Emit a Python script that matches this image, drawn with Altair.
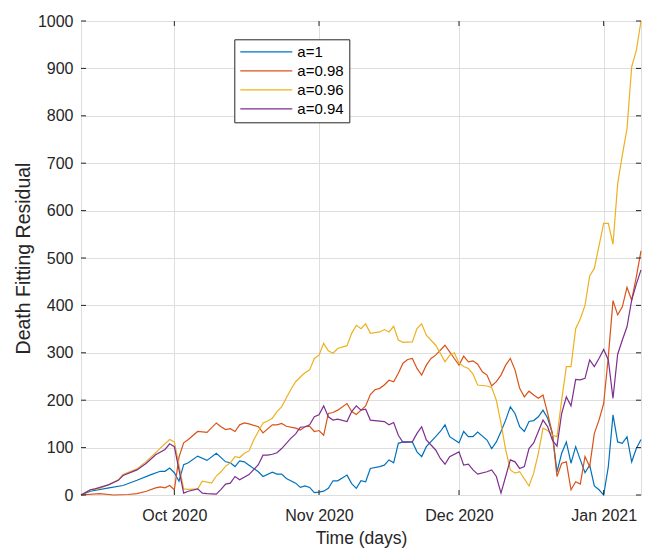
import altair as alt
import pandas as pd

START = "2020-09-11"
SERIES = ["a=1", "a=0.98", "a=0.96", "a=0.94"]
COLORS = ["#0072BD", "#D95319", "#EDB120", "#7E2F8E"]

# day offsets from START and residual values
A100_DAYS = [0, 2, 6, 9, 12, 15, 17, 18, 19, 20, 21, 22, 23, 25, 27, 29, 31, 32, 33, 34, 35, 36, 38, 39,
             41, 42, 43, 44, 46, 47, 48, 49, 50, 51, 52, 53, 54, 55, 57, 58, 59, 60, 61, 62, 64, 65, 66,
             67, 68, 69, 71, 72, 73, 74, 76, 77, 78, 79, 81, 82, 83, 84, 85, 87, 88, 89, 90, 91, 92, 93,
             94, 95, 96, 97, 98, 99, 100, 101, 102, 103, 104, 105, 106, 107, 108, 109, 110, 111, 112,
             113, 114, 115, 116, 117, 118, 119, 120]
A100_VALS = [0, 8, 15, 20, 31, 43, 50, 50, 57, 47, 29, 64, 68, 82, 73, 88, 70, 68, 60, 72, 70, 63, 49, 39,
             48, 44, 44, 35, 25, 16, 19, 16, 5, 6, 8, 14, 30, 30, 42, 24, 14, 30, 28, 56, 60, 63, 74,
             68, 109, 112, 112, 91, 81, 102, 123, 134, 148, 123, 110, 134, 123, 123, 133, 116, 98, 112, 134, 158, 186, 172,
             144, 134, 155, 157, 165, 179, 162, 130, 49, 88, 112, 67, 102, 74, 47, 63, 19, 11, 0,
             60, 169, 112, 109, 123, 70, 98, 117]

A098_DAYS = [0, 4, 7, 10, 12, 14, 16, 17, 18, 19, 20, 21, 22, 23, 25, 27, 29, 30, 31, 32, 33, 34, 35, 36,
             38, 39, 41, 42, 43, 44, 46, 47, 48, 49, 50, 51, 52, 53, 54, 55, 57, 58, 59, 60, 61, 62, 63,
             64, 65, 66, 67, 68, 69, 70, 71, 72, 73, 74, 75, 76, 78, 79, 80, 81, 82, 83, 84, 85, 86, 87,
             88, 89, 90, 91, 92, 93, 94, 95, 96, 97, 98, 99, 100, 101, 102, 103, 104, 105, 106, 107, 108,
             109, 110, 111, 112, 113, 114, 115, 116, 117, 118, 119, 120]
A098_VALS = [0, 3, 0, 1, 3, 8, 15, 17, 15, 20, 11, 80, 110, 117, 134, 132, 152, 144, 138, 140, 134, 148, 152, 150,
             144, 131, 148, 148, 151, 145, 141, 137, 144, 145, 134, 136, 126, 172, 174, 179, 193, 176, 170, 179, 188, 212, 222,
             225, 232, 242, 239, 257, 278, 286, 288, 267, 253, 274, 288, 295, 316, 302, 288, 274, 293, 281, 283, 276, 260, 253,
             230, 239, 253, 274, 288, 264, 225, 207, 219, 211, 204, 211, 172, 130, 39, 67, 70, 11, 28, 23, 81,
             60, 130, 158, 193, 292, 410, 380, 397, 438, 411, 460, 515]

A096_DAYS = [0, 2, 4, 6, 8, 9, 12, 14, 16, 17, 19, 20, 22, 23, 25, 26, 28, 29, 30, 31, 32, 33, 34, 35,
             36, 37, 38, 39, 40, 41, 42, 43, 44, 45, 46, 47, 48, 49, 50, 51, 52, 53, 54, 55, 57, 58, 59,
             60, 61, 62, 64, 65, 66, 67, 68, 69, 71, 72, 73, 74, 76, 77, 78, 79, 80, 81, 82, 83, 84, 85,
             87, 88, 89, 90, 91, 92, 93, 94, 96, 97, 98, 99, 100, 101, 102, 103, 104, 105, 106, 107, 108,
             109, 110, 112, 113, 114, 115, 116, 117, 118, 119, 120]
A096_VALS = [0, 11, 14, 22, 32, 43, 55, 71, 89, 99, 117, 112, 13, 12, 13, 29, 25, 40, 49, 61, 68, 81, 79, 88,
             93, 116, 134, 152, 156, 162, 176, 186, 205, 223, 239, 249, 258, 264, 288, 295, 320, 304, 299, 309, 315, 341, 358,
             351, 361, 341, 344, 349, 344, 356, 327, 322, 323, 351, 361, 337, 316, 299, 281, 295, 300, 278, 271, 267, 255, 232,
             230, 227, 200, 151, 95, 53, 46, 49, 19, 46, 88, 141, 136, 126, 123, 200, 271, 271, 351, 372, 400,
             462, 478, 573, 573, 529, 657, 717, 773, 903, 938, 1000]

A094_DAYS = [0, 2, 3, 6, 8, 9, 12, 14, 16, 18, 19, 20, 22, 23, 25, 26, 27, 29, 30, 31, 32, 33, 34, 36,
             38, 39, 40, 41, 42, 43, 44, 45, 46, 47, 48, 49, 50, 51, 52, 53, 54, 55, 57, 58, 59, 60, 61,
             62, 64, 65, 66, 67, 68, 69, 71, 72, 73, 74, 76, 77, 78, 79, 81, 82, 83, 84, 85, 87, 88, 89,
             90, 91, 92, 93, 94, 95, 96, 97, 98, 99, 100, 101, 102, 103, 104, 105, 106, 107, 108, 109, 110,
             111, 112, 113, 114, 115, 116, 117, 118, 119, 120]
A094_VALS = [0, 11, 13, 22, 31, 41, 53, 67, 85, 96, 108, 102, 4, 8, 13, 4, 3, 2, 12, 23, 25, 39, 32, 43,
             64, 84, 84, 86, 89, 98, 109, 120, 129, 143, 144, 148, 165, 169, 188, 165, 158, 160, 155, 176, 188, 179, 181,
             158, 156, 155, 148, 153, 126, 111, 112, 130, 144, 116, 95, 77, 65, 81, 91, 63, 65, 53, 44, 49, 53, 39,
             4, 39, 74, 70, 56, 60, 98, 110, 134, 158, 144, 116, 103, 172, 207, 188, 244, 243, 246, 285, 271,
             288, 307, 285, 204, 297, 327, 355, 411, 445, 475]

X_TICKS = ["2020-10-01", "2020-11-01", "2020-12-01", "2021-01-01"]
Y_TICKS = [0, 100, 200, 300, 400, 500, 600, 700, 800, 900, 1000]

W, H = 560, 474
AX = "#262626"
FONT = "Liberation Sans"


def stamp(day):
    return (pd.Timestamp(START) + pd.Timedelta(days=day)).strftime("%Y-%m-%dT%H:%M:%S")


rows = []
for name, days, vals in [("a=1", A100_DAYS, A100_VALS), ("a=0.98", A098_DAYS, A098_VALS),
                         ("a=0.96", A096_DAYS, A096_VALS), ("a=0.94", A094_DAYS, A094_VALS)]:
    for d, v in zip(days, vals):
        rows.append({"date": stamp(d), "value": v, "series": name})
df = pd.DataFrame(rows)

xscale = alt.Scale(domain=[alt.DateTime(year=2020, month=9, date=11),
                           alt.DateTime(year=2021, month=1, date=9)], nice=False)
yscale = alt.Scale(domain=[0, 1000], nice=False)

x_axis = alt.Axis(
    values=[alt.DateTime(year=int(t[:4]), month=int(t[5:7]), date=1) for t in X_TICKS],
    format="%b %Y", title="Time (days)", ticks=False, tickSize=0, domain=False,
    grid=True, gridColor="#dedede", labelFontSize=16, labelColor=AX, labelPadding=25,
    labelBaseline="alphabetic", titleFontSize=17.5, titleFontWeight="normal", titleColor=AX,
    titleY=48, titleBaseline="alphabetic", labelFont=FONT, titleFont=FONT,
)
y_axis = alt.Axis(
    values=Y_TICKS, format="d", title="Death Fitting Residual", ticks=False, tickSize=0,
    domain=False, grid=True, gridColor="#dedede", labelFontSize=16, labelColor=AX,
    labelPadding=8, titleFontSize=19.5, titleFontWeight="normal", titleColor=AX,
    titleX=-57.5, titleY=H / 2, titleAngle=270, titleAlign="center", titleBaseline="middle",
    labelFont=FONT, titleFont=FONT,
)

lines = alt.Chart(df).mark_line(strokeWidth=1.2).encode(
    x=alt.X("date:T", scale=xscale, axis=x_axis),
    y=alt.Y("value:Q", scale=yscale, axis=y_axis),
    color=alt.Color(
        "series:N",
        scale=alt.Scale(domain=SERIES, range=COLORS),
        sort=SERIES,
        legend=alt.Legend(
            orient="none", legendX=153.3, legendY=18.3, title=None,
            symbolType="M-4,0H4", symbolSize=169, symbolStrokeWidth=1.2,
            symbolOffset=19.5, labelOffset=23.5, labelFontSize=15, labelColor="#000000",
            labelFont=FONT, strokeColor=AX, fillColor="white", padding=5, rowPadding=3,
        ),
    ),
)

xt = pd.DataFrame({"date": [t + "T00:00:00" for t in X_TICKS]})
yt = pd.DataFrame({"v": Y_TICKS})

xt_bottom = alt.Chart(xt).mark_rule(color=AX, strokeWidth=1).encode(
    x=alt.X("date:T", scale=xscale, axis=x_axis), y=alt.value(H), y2=alt.value(H - 5))
xt_top = alt.Chart(xt).mark_rule(color=AX, strokeWidth=1).encode(
    x=alt.X("date:T", scale=xscale, axis=x_axis), y=alt.value(0), y2=alt.value(5))
yt_left = alt.Chart(yt).mark_rule(color=AX, strokeWidth=1).encode(
    y=alt.Y("v:Q", scale=yscale, axis=y_axis), x=alt.value(0), x2=alt.value(5))
yt_right = alt.Chart(yt).mark_rule(color=AX, strokeWidth=1).encode(
    y=alt.Y("v:Q", scale=yscale, axis=y_axis), x=alt.value(W), x2=alt.value(W - 5))

chart = alt.layer(lines, xt_bottom, xt_top, yt_left, yt_right).properties(
    width=W, height=H,
    autosize=alt.AutoSizeParams(type="none"),
    padding={"left": 73, "top": 13, "right": 8, "bottom": 53},
).configure_view(stroke=AX, strokeWidth=1).configure(font=FONT, background="white")

chart.save("out.html", embed_options={"renderer": "svg", "actions": False})
